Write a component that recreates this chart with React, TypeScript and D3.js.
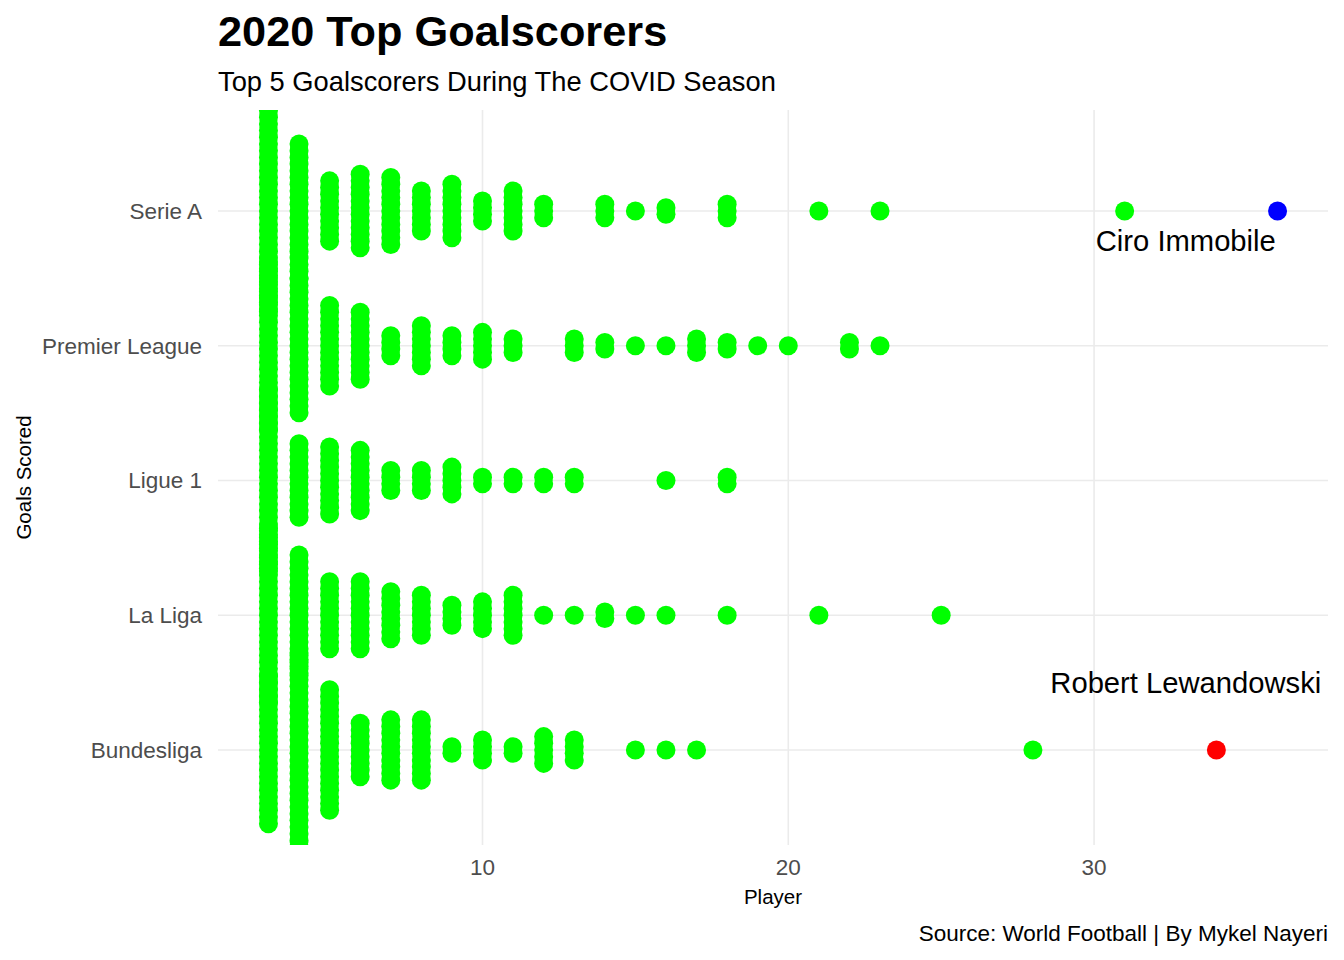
import React from "react";
import * as d3 from "d3";

// leagues listed bottom -> top, as on the chart
const leagues = ["Bundesliga", "La Liga", "Ligue 1", "Premier League", "Serie A"];

// goals scored and how many players scored that many
const serieAGoals = [3, 4, 5, 6, 7, 8, 9, 10, 11, 12, 14, 15, 16, 18, 21, 23, 31];
const serieACounts = [31, 21, 10, 12, 11, 7, 9, 4, 7, 3, 3, 1, 2, 3, 1, 1, 1];

const premierGoals = [3, 4, 5, 6, 7, 8, 9, 10, 11, 13, 14, 15, 16, 17, 18, 19, 20, 22, 23];
const premierCounts = [26, 21, 13, 11, 4, 7, 4, 5, 3, 3, 2, 1, 1, 3, 2, 1, 1, 2, 1];

const ligue1Goals = [3, 4, 5, 6, 7, 8, 9, 10, 11, 12, 13, 16, 18];
const ligue1Counts = [28, 12, 11, 10, 4, 4, 5, 2, 2, 2, 2, 1, 2];

const laLigaGoals = [3, 4, 5, 6, 7, 8, 9, 10, 11, 12, 13, 14, 15, 16, 18, 21, 25];
const laLigaCounts = [27, 19, 11, 11, 8, 7, 4, 5, 7, 1, 1, 2, 1, 1, 1, 1, 1];

const bundesGoals = [3, 4, 5, 6, 7, 8, 9, 10, 11, 12, 13, 15, 16, 17, 28];
const bundesCounts = [23, 30, 19, 9, 10, 10, 2, 4, 2, 5, 4, 1, 1, 1, 1];

const highlightNames = ["Ciro Immobile", "Robert Lewandowski"];
const highlightLeagues = ["Serie A", "Bundesliga"];
const highlightGoals = [36, 34];

const tickValues = [10, 20, 30];

const seriesByLeague: Record<string, [number[], number[]]> = {
  "Serie A": [serieAGoals, serieACounts],
  "Premier League": [premierGoals, premierCounts],
  "Ligue 1": [ligue1Goals, ligue1Counts],
  "La Liga": [laLigaGoals, laLigaCounts],
  Bundesliga: [bundesGoals, bundesCounts],
};

const W = 1344;
const H = 960;
const panel = { left: 218, right: 1328, top: 110, bottom: 845 };
const STACK = 6.7; // vertical offset between stacked dots
const R = 9.5;
const FONT = "'Liberation Sans', Arial, Helvetica, sans-serif";

export default function App() {
  const allGoals = [...Object.values(seriesByLeague).flatMap((s) => s[0]), ...highlightGoals];
  const [gMin, gMax] = d3.extent(allGoals) as [number, number];
  const pad = (gMax - gMin) * 0.05;

  const x = d3.scaleLinear().domain([gMin - pad, gMax + pad]).range([panel.left, panel.right]);
  const y = d3.scalePoint<string>().domain(leagues).range([750, 211]);
  // continuous version of the league axis, for the text labels
  const yc = d3.scaleLinear().domain([1, leagues.length]).range([750, 211]);

  const dots: { cx: number; cy: number; key: string }[] = [];
  leagues.forEach((lg) => {
    const [goals, counts] = seriesByLeague[lg];
    goals.forEach((g, j) => {
      const n = counts[j];
      for (let i = 0; i < n; i++) {
        dots.push({ cx: x(g), cy: (y(lg) as number) + (i - (n - 1) / 2) * STACK, key: `${lg}-${g}-${i}` });
      }
    });
  });

  const hlColors = ["#0000FF", "#FF0000"];
  const labelY = [4.78, 1.5];

  return (
    <svg width={W} height={H} style={{ position: "absolute", left: 0, top: 0, background: "#fff" }} fontFamily={FONT}>
      <defs>
        <clipPath id="panel">
          <rect x={panel.left} y={panel.top} width={panel.right - panel.left} height={panel.bottom - panel.top} />
        </clipPath>
      </defs>

      {/* grid */}
      <g stroke="#EBEBEB" strokeWidth={1.6}>
        {leagues.map((lg) => (
          <line key={lg} x1={panel.left} x2={panel.right} y1={y(lg)} y2={y(lg)} />
        ))}
        {tickValues.map((t) => (
          <line key={t} x1={x(t)} x2={x(t)} y1={panel.top} y2={panel.bottom} />
        ))}
      </g>

      <g clipPath="url(#panel)">
        {dots.map((d) => (
          <circle key={d.key} cx={d.cx} cy={d.cy} r={R} fill="#00FF00" />
        ))}
        {highlightGoals.map((g, i) => (
          <circle key={highlightNames[i]} cx={x(g)} cy={y(highlightLeagues[i])} r={R} fill={hlColors[i]} />
        ))}
      </g>

      {highlightNames.map((nm, i) => (
        <text key={nm} x={x(33)} y={yc(labelY[i])} dy="0.35em" textAnchor="middle" fontSize={29.2} fill="#000">
          {nm}
        </text>
      ))}

      {/* axes */}
      {leagues.map((lg) => (
        <text key={lg} x={202} y={y(lg)} dy="0.35em" textAnchor="end" fontSize={22.5} fill="#4D4D4D">
          {lg}
        </text>
      ))}
      {tickValues.map((t) => (
        <text key={t} x={x(t)} y={867} dy="0.35em" textAnchor="middle" fontSize={22.5} fill="#4D4D4D">
          {t}
        </text>
      ))}
      <text x={(panel.left + panel.right) / 2} y={897} dy="0.35em" textAnchor="middle" fontSize={20.5}>
        Player
      </text>
      <text
        transform={`translate(24,${(panel.top + panel.bottom) / 2}) rotate(-90)`}
        dy="0.35em"
        textAnchor="middle"
        fontSize={20.5}
      >
        Goals Scored
      </text>

      {/* titles */}
      <text x={218} y={46} fontSize={43.3} fontWeight="bold">
        2020 Top Goalscorers
      </text>
      <text x={218} y={91} fontSize={27.3}>
        Top 5 Goalscorers During The COVID Season
      </text>
      <text x={panel.right} y={933} dy="0.35em" textAnchor="end" fontSize={22.5}>
        Source: World Football | By Mykel Nayeri
      </text>
    </svg>
  );
}
